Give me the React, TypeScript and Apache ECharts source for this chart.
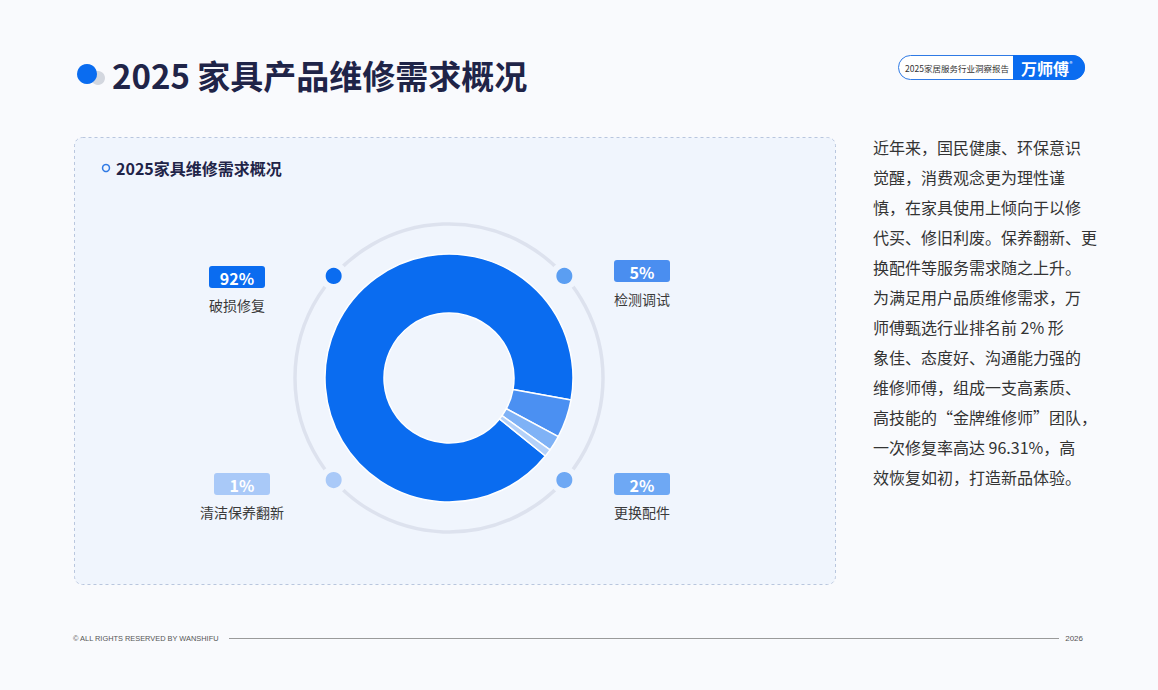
import React, { useEffect, useRef } from "react";
import * as echarts from "echarts";

const categories = ["破损修复", "检测调试", "更换配件", "清洁保养翻新"];
const values = [92, 5, 2, 1];
const percentLabels = ["92%", "5%", "2%", "1%"];
const sliceColors = ["#0a6cf0", "#4b90f2", "#7fb2f6", "#b4d1f9"];
const boxColors = ["#0a6cf0", "#4a8ef0", "#6ea8f4", "#a9c9f8"];
const dotColors = ["#0a6cf0", "#5b9ef2", "#6ea8f4", "#a9c9f8"];

const titleText = "2025 家具产品维修需求概况";
const panelTitle = "2025家具维修需求概况";
const badgeText = "2025家居服务行业洞察报告";
const brandText = "万师傅";
const footerLeft = "© ALL RIGHTS RESERVED BY WANSHIFU";
const footerRight = "2026";
const bodyLines = [
  "近年来，国民健康、环保意识",
  "觉醒，消费观念更为理性谨",
  "慎，在家具使用上倾向于以修",
  "代买、修旧利废。保养翻新、更",
  "换配件等服务需求随之上升。",
  "为满足用户品质维修需求，万",
  "师傅甄选行业排名前 2% 形",
  "象佳、态度好、沟通能力强的",
  "维修师傅，组成一支高素质、",
  "高技能的“金牌维修师”团队，",
  "一次修复率高达 96.31%，高",
  "效恢复如初，打造新品体验。",
];

// layout (not data)
const CX = 449;
const CY = 378;
const RING_R = 154;
const labelSlots = [
  { x: 237, y: 277, dotAngle: 180 - 41.5 }, // top-left
  { x: 642, y: 271, dotAngle: 41.5 }, // top-right
  { x: 642, y: 484, dotAngle: -41.5 }, // bottom-right
  { x: 242, y: 484, dotAngle: 180 + 41.5 }, // bottom-left
];

const FONT = "'Noto Sans CJK SC', 'Noto Sans', sans-serif";

export default function App() {
  const ref = useRef<HTMLDivElement>(null);
  useEffect(() => {
    if (!ref.current) return;
    const chart = echarts.init(ref.current, null, { renderer: "svg" });
    const graphics: any[] = [];

    // panel
    graphics.push({
      type: "rect",
      z: -10,
      shape: { x: 74.5, y: 137.5, width: 761, height: 447, r: 8 },
      style: { fill: "#f0f5fd", stroke: "#b9c6de", lineWidth: 1, lineDash: [3, 3] },
    });

    // title
    graphics.push({ type: "circle", shape: { cx: 98, cy: 78, r: 7 }, style: { fill: "#d3d7df" } });
    graphics.push({ type: "circle", shape: { cx: 87, cy: 74, r: 10 }, style: { fill: "#0a6cf0" } });
    graphics.push({
      type: "text",
      x: 112,
      y: 75,
      style: {
        text: titleText,
        fontFamily: FONT,
        fontSize: 33,
        fontWeight: "bold",
        fill: "#1f2448",
        verticalAlign: "middle",
        align: "left",
      },
    });

    // badge
    graphics.push({
      type: "rect",
      shape: { x: 898.5, y: 55.5, width: 186, height: 24, r: 12 },
      style: { fill: "#ffffff", stroke: "#2f7ae5", lineWidth: 1 },
    });
    graphics.push({
      type: "rect",
      shape: { x: 1013, y: 55, width: 72, height: 25, r: [0, 12.5, 12.5, 0] },
      style: { fill: "#0a6cf0" },
    });
    graphics.push({
      type: "text",
      x: 957,
      y: 68,
      style: { text: badgeText, fontFamily: FONT, fontSize: 8.5, fill: "#333", align: "center", verticalAlign: "middle" },
    });
    graphics.push({
      type: "text",
      x: 1045,
      y: 68,
      style: { text: brandText, fontFamily: FONT, fontSize: 16, fontWeight: "bold", fill: "#fff", align: "center", verticalAlign: "middle" },
    });
    graphics.push({
      type: "text",
      x: 1071,
      y: 63,
      style: { text: "®", fontFamily: FONT, fontSize: 6, fill: "#fff", align: "center", verticalAlign: "middle" },
    });

    // panel title
    graphics.push({
      type: "circle",
      shape: { cx: 106, cy: 168, r: 3.5 },
      style: { fill: "none", stroke: "#2f7ae5", lineWidth: 1.5 },
    });
    graphics.push({
      type: "text",
      x: 116,
      y: 168,
      style: { text: panelTitle, fontFamily: FONT, fontSize: 16, fontWeight: "bold", fill: "#1f2448", verticalAlign: "middle" },
    });

    // ring
    graphics.push({
      type: "circle",
      shape: { cx: CX, cy: CY, r: RING_R },
      style: { fill: "none", stroke: "#dde2ee", lineWidth: 3.5 },
    });

    // labels & dots
    categories.forEach((name, i) => {
      const slot = labelSlots[i];
      const a = (slot.dotAngle * Math.PI) / 180;
      graphics.push({
        type: "circle",
        z: 5,
        shape: { cx: CX + RING_R * Math.cos(a), cy: CY - RING_R * Math.sin(a), r: 11 },
        style: { fill: dotColors[i], stroke: "#f0f5fd", lineWidth: 6 },
      });
      graphics.push({
        type: "rect",
        shape: { x: slot.x - 28, y: slot.y - 11, width: 56, height: 22, r: 3 },
        style: { fill: boxColors[i] },
      });
      graphics.push({
        type: "text",
        x: slot.x,
        y: slot.y + 0.5,
        style: { text: percentLabels[i], fontFamily: FONT, fontSize: 16, fontWeight: "bold", fill: "#fff", align: "center", verticalAlign: "middle" },
      });
      graphics.push({
        type: "text",
        x: slot.x,
        y: slot.y + 28,
        style: { text: name, fontFamily: FONT, fontSize: 14, fill: "#3a3a3a", align: "center", verticalAlign: "middle" },
      });
    });

    // body text
    bodyLines.forEach((line, i) => {
      graphics.push({
        type: "text",
        x: 873,
        y: 147 + i * 30,
        style: { text: line, fontFamily: FONT, fontSize: 16, fill: "#333333", verticalAlign: "middle" },
      });
    });

    // footer
    graphics.push({
      type: "text",
      x: 73,
      y: 638,
      style: { text: footerLeft, fontFamily: "'Liberation Sans', Arial, sans-serif", fontSize: 7.4, fill: "#555", verticalAlign: "middle" },
    });
    graphics.push({
      type: "line",
      shape: { x1: 229, y1: 638.5, x2: 1059, y2: 638.5 },
      style: { stroke: "#9a9a9a", lineWidth: 1 },
    });
    graphics.push({
      type: "text",
      x: 1083,
      y: 638,
      style: { text: footerRight, fontFamily: "'Liberation Sans', Arial, sans-serif", fontSize: 8, fill: "#555", align: "right", verticalAlign: "middle" },
    });

    chart.setOption({
      animation: false,
      backgroundColor: "#f9fafd",
      graphic: { elements: graphics },
      series: [
        {
          type: "pie",
          center: [CX, CY],
          radius: [65, 124],
          startAngle: -39,
          clockwise: true,
          label: { show: false },
          labelLine: { show: false },
          emphasis: { disabled: true },
          itemStyle: { borderColor: "#ffffff", borderWidth: 1.5 },
          data: categories.map((name, i) => ({
            name,
            value: values[i],
            itemStyle: { color: sliceColors[i] },
          })),
        },
      ],
    });
    return () => chart.dispose();
  }, []);
  return (
    <div
      ref={ref}
      style={{ position: "fixed", left: 0, top: 0, width: 1158, height: 690 }}
    />
  );
}
